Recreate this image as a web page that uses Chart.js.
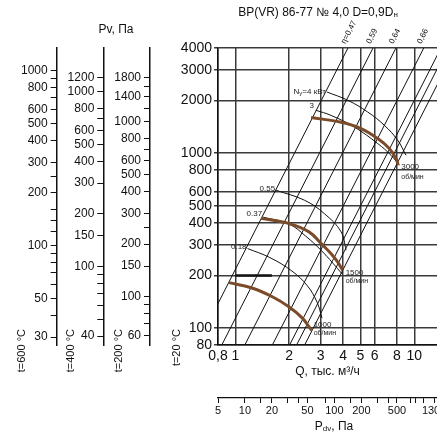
<!DOCTYPE html>
<html>
<head>
<meta charset="utf-8">
<script src="https://cdn.jsdelivr.net/npm/chart.js@4.4.0/dist/chart.umd.min.js"></script>
<style>
body { margin: 0; background: #fff; }
</style>
</head>
<body>
<canvas id="fanGraph" width="437" height="434"></canvas>
<script>
const FONT = "'Liberation Sans', Arial, sans-serif";

//---- axes ----
const qTicks = [0.8, 1, 2, 3, 4, 5, 6, 8, 10];
const pTicks = [80, 100, 200, 300, 400, 500, 600, 800, 1000, 2000, 3000, 4000];
const pdvTicks = [5, 10, 15, 20, 30, 40, 50, 80, 100, 150, 200, 300, 400, 500, 700, 800, 1000, 1300];
const pdvLabels = [5, 10, 20, 50, 100, 200, 500, 1300];

const pv600Ticks = [1000, 900, 800, 700, 600, 500, 400, 300, 250, 200, 160, 140, 120, 100, 90, 80, 70, 60, 50, 40, 30];
const pv600Labels = [1000, 800, 600, 500, 400, 300, 200, 100, 50, 30];
const pv400Ticks = [1200, 1000, 800, 700, 600, 500, 400, 300, 200, 150, 100, 90, 80, 70, 60, 50, 40];
const pv400Labels = [1200, 1000, 800, 600, 500, 400, 300, 200, 150, 100, 40];
const pv200Ticks = [1800, 1600, 1400, 1200, 1000, 800, 700, 600, 500, 400, 300, 250, 200, 150, 100, 90, 80, 70, 60];
const pv200Labels = [1800, 1400, 1000, 800, 600, 500, 400, 300, 200, 150, 100, 60];

//---- efficiency lines : Q at P=80 and Q at P=4000 ----
const etaQlow = [0.61, 0.84, 1.13, 1.61, 2.01, 2.2, 2.44];
const etaQhigh = [4.26, 5.88, 7.9, 11.3, 14.1, 15.4, 17.1];
const etaLabels = ['η=0,47', '0,59', '0,64', '0,66'];

//---- fan curves (n, об/мин) ----
const q3000 = [2.65, 3.9, 5.04, 6.25, 7.25, 7.9, 8.14];
const p3000 = [1600, 1503, 1384, 1213, 1064, 934, 854];
const q1500 = [1.39, 2.0, 2.58, 3.01, 3.42, 3.73, 3.98];
const p1500 = [424, 396, 355, 305, 267, 239, 214];
const q1000 = [0.92, 1.25, 1.61, 2.0, 2.37, 2.67];
const p1000 = [182, 169, 151, 132, 114, 97];

//---- power curves (Nу, кВт) ----
const qN4 = [3.25, 4.25, 5.49, 6.8, 8.08, 8.99];
const pN4 = [2240, 2009, 1722, 1446, 1187, 974];
const qN3 = [2.82, 3.42, 4.62, 6.25, 7.41, 8.25];
const pN3 = [1761, 1648, 1413, 1136, 974, 854];
const qN055 = [1.69, 2.43, 3.14, 3.9, 4.16];
const pN055 = [614, 539, 452, 355, 279];
const qN037 = [1.43, 2.0, 2.48, 3.01, 3.51, 3.95];
const pN037 = [431, 393, 335, 279, 235, 204];
const qN018 = [1.17, 1.56, 2.07, 2.52, 2.86, 3.05];
const pN018 = [285, 253, 212, 175, 141, 114];

const q200 = [1.0, 1.6];
const p200 = [200, 200];

function pts(qs, ps){
    return qs.map((q, i) => ({x: q, y: ps[i]}));
}

function curve(qs, ps, color, width){
    return {
        data: pts(qs, ps),
        borderColor: color,
        borderWidth: width,
        pointRadius: 0,
        tension: 0.4,
        fill: false
    };
}

let datasets = [
    curve(q3000, p3000, '#7b4b2a', 3),
    curve(q1500, p1500, '#7b4b2a', 3),
    curve(q1000, p1000, '#7b4b2a', 3),
    curve(qN4, pN4, '#111', 1),
    curve(qN3, pN3, '#111', 1),
    curve(qN055, pN055, '#111', 1),
    curve(qN037, pN037, '#111', 1),
    curve(qN018, pN018, '#111', 1),
    curve(q200, p200, '#111', 2.5)
];
for(let i = 0; i < etaQlow.length; i++){
    datasets.push({
        data: [{x: etaQlow[i], y: 80}, {x: etaQhigh[i], y: 4000}],
        borderColor: '#111',
        borderWidth: 1,
        pointRadius: 0,
        tension: 0
    });
}

function pvScale(min, max, tickVals, labelVals, weight, width){
    return {
        type: 'logarithmic',
        position: 'left',
        min: min,
        max: max,
        weight: weight,
        afterBuildTicks: s => { s.ticks = tickVals.map(v => ({value: v})); },
        afterFit: s => { s.width = width; },
        ticks: {
            autoSkip: false,
            padding: 3,
            color: '#111',
            font: {family: FONT, size: 12},
            callback: v => labelVals.includes(v) ? String(v) : ''
        },
        grid: {drawOnChartArea: false, drawTicks: true, tickLength: 6, color: '#111', lineWidth: 1},
        border: {display: true, color: '#111', width: 1.5}
    };
}

// draws text made of pieces [text, size, dy]
function richText(ctx, parts, x, y, align){
    let w = 0;
    parts.forEach(p => { ctx.font = p[1] + 'px ' + FONT; w += ctx.measureText(p[0]).width; });
    let cx = align === 'center' ? x - w / 2 : (align === 'right' ? x - w : x);
    ctx.textAlign = 'left';
    parts.forEach(p => {
        ctx.font = p[1] + 'px ' + FONT;
        ctx.fillText(p[0], cx, y + p[2]);
        cx += ctx.measureText(p[0]).width;
    });
}

const textPlugin = {
    id: 'textPlugin',
    afterDraw(chart){
        const ctx = chart.ctx;
        const sx = chart.scales.x, sy = chart.scales.y;
        const area = chart.chartArea;
        const px = (q, p) => [sx.getPixelForValue(q), sy.getPixelForValue(p)];
        ctx.save();
        ctx.fillStyle = '#111';
        ctx.textBaseline = 'middle';

        richText(ctx, [['BP(VR) 86-77 № 4,0 D=0,9D', 12, 0], ['н', 8, 2]], 318, 13, 'center');
        richText(ctx, [['Pv, Па', 12, 0]], 116, 30, 'center');
        richText(ctx, [['P', 12, 0], ['dv', 8, 2], [', Па', 12, 0]], 334, 427, 'center');

        // temperature labels
        const tLabels = [['t=600 °C', chart.scales.y600.right - 35], ['t=400 °C', chart.scales.y400.right - 32],
                         ['t=200 °C', chart.scales.y200.right - 31], ['t=20 °C', sy.right - 41]];
        ctx.font = '11px ' + FONT;
        tLabels.forEach(t => {
            ctx.save();
            ctx.translate(t[1], area.bottom - 16);
            ctx.rotate(-Math.PI / 2);
            ctx.textAlign = 'right';
            ctx.fillText(t[0], 0, 0);
            ctx.restore();
        });

        // efficiency labels
        ctx.font = '8px ' + FONT;
        etaLabels.forEach((lab, i) => {
            ctx.save();
            ctx.translate(sx.getPixelForValue(etaQhigh[i]) - 1, area.top - 3);
            ctx.rotate(-1.1);
            ctx.textAlign = 'left';
            ctx.textBaseline = 'bottom';
            ctx.fillText(lab, 0, 0);
            ctx.restore();
        });

        // power labels
        ctx.fillStyle = '#222';
        let a = px(qN4[0], pN4[0]);
        richText(ctx, [['N', 8, 0], ['у', 6, 1.5], ['=4 кВт', 8, 0]], a[0] - 1, a[1], 'right');
        a = px(qN3[0], pN3[0]);
        richText(ctx, [['3', 8, 0]], a[0] - 2, a[1] - 4, 'right');
        a = px(qN055[0], pN055[0]);
        richText(ctx, [['0.55', 8, 0]], a[0] - 1, a[1] - 1, 'right');
        a = px(qN037[0], pN037[0]);
        richText(ctx, [['0.37', 8, 0]], a[0] - 1, a[1] - 3, 'right');
        a = px(qN018[0], pN018[0]);
        richText(ctx, [['0.18', 8, 0]], a[0] - 1, a[1] - 2, 'right');

        // speed labels
        a = px(q3000[q3000.length - 1], p3000[p3000.length - 1]);
        richText(ctx, [['3000', 8, 0]], a[0] + 3, a[1] + 2, 'left');
        richText(ctx, [['об/мин', 7, 0]], a[0] + 3, a[1] + 12, 'left');
        a = px(q1500[q1500.length - 1], p1500[p1500.length - 1]);
        richText(ctx, [['1500', 8, 0]], a[0] + 3, a[1] + 2, 'left');
        richText(ctx, [['об/мин', 7, 0]], a[0] + 3, a[1] + 11, 'left');
        a = px(q1000[q1000.length - 1], p1000[p1000.length - 1]);
        richText(ctx, [['1000', 8, 0]], a[0] + 2, a[1] - 6, 'left');
        richText(ctx, [['об/мин', 7, 0]], a[0] + 2, a[1] + 3, 'left');

        ctx.restore();
    }
};

var fan = new Chart(document.getElementById('fanGraph'),
{
    type: 'line',
    data: { datasets: datasets },
    plugins: [textPlugin],
    options: {
        responsive: false,
        animation: false,
        devicePixelRatio: 1,
        layout: { padding: {top: 48, left: 0, right: 0, bottom: 0} },
        plugins: { legend: {display: false}, tooltip: {enabled: false}, title: {display: false} },
        scales: {
            x: {
                type: 'logarithmic',
                position: 'bottom',
                min: 0.8,
                max: 13.4,
                weight: 0,
                afterBuildTicks: s => { s.ticks = qTicks.map(v => ({value: v})); },
                afterFit: s => { s.height = 53; s.paddingRight = 0; },
                ticks: {
                    autoSkip: false, maxRotation: 0, padding: 3, color: '#111',
                    font: {family: FONT, size: 14},
                    callback: v => String(v).replace('.', ',')
                },
                grid: {color: '#3a3a3a', lineWidth: 1.5, drawTicks: false},
                border: {display: true, color: '#111', width: 1.5},
                title: {display: true, text: 'Q, тыс. м³/ч', color: '#111', font: {family: FONT, size: 12}, padding: {top: 0, bottom: 19}}
            },
            x2: {
                type: 'logarithmic',
                position: 'bottom',
                min: 5,
                max: 1400,
                weight: 1,
                afterBuildTicks: s => { s.ticks = pdvTicks.map(v => ({value: v})); },
                afterFit: s => { s.height = 36; s.paddingRight = 0; s.paddingLeft = 0; },
                ticks: {
                    autoSkip: false, maxRotation: 0, padding: 1, color: '#111',
                    font: {family: FONT, size: 11},
                    callback: v => pdvLabels.includes(v) ? String(v) : ''
                },
                grid: {drawOnChartArea: false, drawTicks: true, tickLength: 5, color: '#111', lineWidth: 1},
                border: {display: true, color: '#111', width: 1.2}
            },
            y: {
                type: 'logarithmic',
                position: 'left',
                min: 80,
                max: 4000,
                weight: 0,
                afterBuildTicks: s => { s.ticks = pTicks.map(v => ({value: v})); },
                afterFit: s => { s.width = 68; },
                ticks: {
                    autoSkip: false, padding: 2, color: '#111',
                    font: {family: FONT, size: 14},
                    callback: v => String(v)
                },
                grid: {color: '#3a3a3a', lineWidth: 1.5, tickLength: 4},
                border: {display: true, color: '#111', width: 1.5}
            },
            y200: pvScale(53, 2650, pv200Ticks, pv200Labels, 1, 46.7),
            y400: pvScale(35.6, 1780, pv400Ticks, pv400Labels, 2, 46.6),
            y600: pvScale(27, 1350, pv600Ticks, pv600Labels, 3, 56.7)
        }
    }
});
</script>
</body>
</html>
